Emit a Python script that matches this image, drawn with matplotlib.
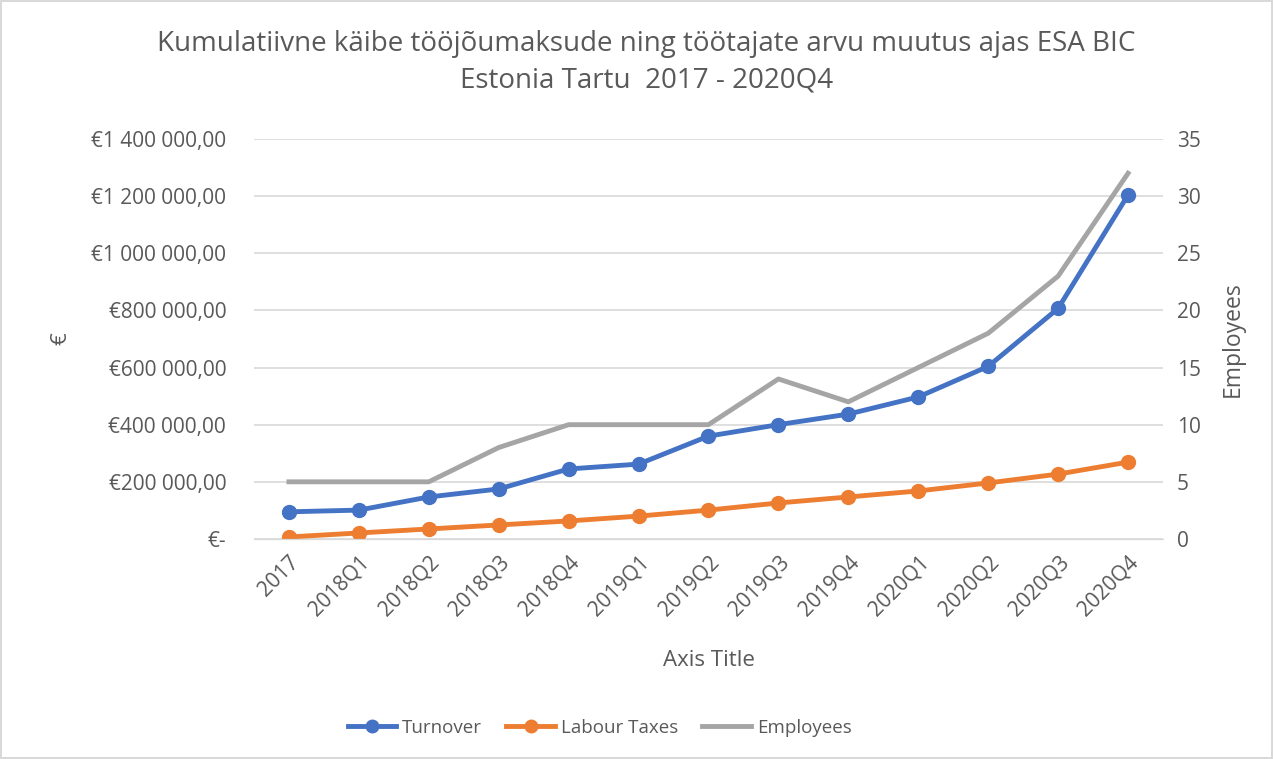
import matplotlib.pyplot as plt
from matplotlib.ticker import FuncFormatter, MultipleLocator

quarters = ["2017", "2018Q1", "2018Q2", "2018Q3", "2018Q4", "2019Q1", "2019Q2",
            "2019Q3", "2019Q4", "2020Q1", "2020Q2", "2020Q3", "2020Q4"]
turnover = [95000, 101000, 147000, 175000, 245000, 262000, 360000,
            400000, 437000, 497000, 604000, 807000, 1204000]
labour_taxes = [7000, 21000, 35000, 49000, 63000, 80000, 101000,
                126000, 147000, 168000, 196000, 227000, 269000]
employees = [5, 5, 5, 8, 10, 10, 10, 14, 12, 15, 18, 23, 32]

plt.rcParams['font.family'] = ['Open Sans', 'DejaVu Sans']
txt = '#595959'
grid = '#d9d9d9'

fig = plt.figure(figsize=(12.73, 7.59), dpi=100)
fig.patch.set_edgecolor(grid)
fig.patch.set_linewidth(1.5)
ax = fig.add_axes([0.1995, 0.2899, 0.7141, 0.527])
ax2 = ax.twinx()

x = range(len(quarters))
l1, = ax.plot(x, turnover, color='#4472c4', lw=3.5, marker='o', ms=10, label='Turnover')
l2, = ax.plot(x, labour_taxes, color='#ed7d31', lw=3.5, marker='o', ms=10, label='Labour Taxes')
l3, = ax2.plot(x, employees, color='#a5a5a5', lw=3.5, label='Employees')

ax.set_xlim(-0.5, len(quarters) - 0.5)
ax.set_ylim(0, 1400000)
ax2.set_ylim(0, 35)
ax.yaxis.set_major_locator(MultipleLocator(200000))
ax2.yaxis.set_major_locator(MultipleLocator(5))

def euro(v, pos):
    if v == 0:
        return '€-'
    return '€' + '{:,.0f}'.format(v).replace(',', ' ') + ',00'

ax.yaxis.set_major_formatter(FuncFormatter(euro))
ax.set_xticks(list(x))
ax.set_xticklabels(quarters, rotation=45, ha='right', rotation_mode='anchor')

ax.grid(axis='y', color=grid, lw=1.2)
ax.set_axisbelow(True)
for a in (ax, ax2):
    for s in ('top', 'left', 'right'):
        a.spines[s].set_visible(False)
    a.spines['bottom'].set_color(grid)
    a.tick_params(colors=txt, labelsize=15, length=0)
ax.tick_params(axis='y', pad=20)
ax2.tick_params(axis='y', pad=10)
ax.tick_params(axis='x', pad=9)

ax.set_xlabel('Axis Title', fontsize=16, color=txt, labelpad=22)
ax.set_ylabel('€', fontsize=16, color=txt, labelpad=14)
ax2.set_ylabel('Employees', fontsize=16.5, color=txt, labelpad=14)

fig.text(0.508, 0.960, 'Kumulatiivne käibe tööjõumaksude ning töötajate arvu muutus ajas ESA BIC\nEstonia Tartu  2017 - 2020Q4',
         ha='center', va='top', fontsize=20, color=txt, linespacing=1.4)

fig.legend(handles=[l1, l2, l3], loc='center', bbox_to_anchor=(0.471, 0.041), ncol=3,
           frameon=False, fontsize=13.5, labelcolor=txt, handlelength=2.6, handletextpad=0.3,
           columnspacing=1.3, markerscale=0.9)

fig.savefig('out.png', dpi=100, edgecolor=fig.get_edgecolor())
